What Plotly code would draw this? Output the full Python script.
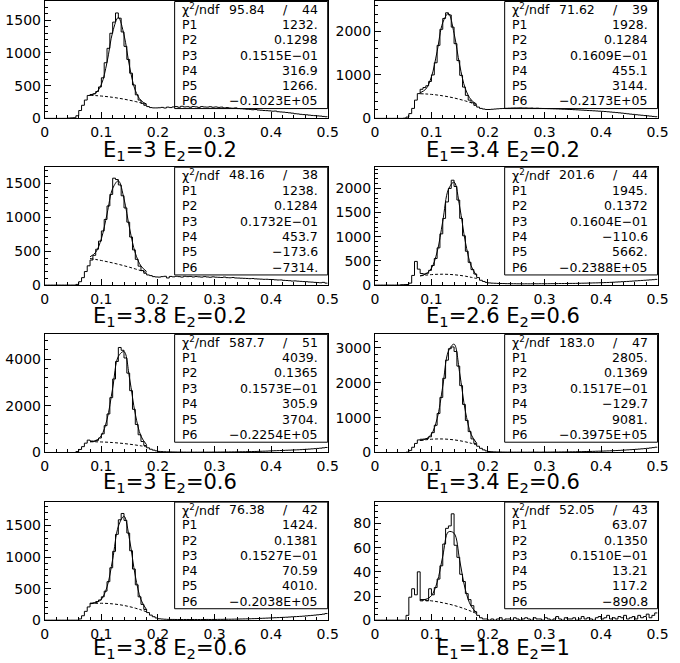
import plotly.graph_objects as go

# ---------------- data ----------------
titles = ["E<sub>1</sub>=3 E<sub>2</sub>=0.2", "E<sub>1</sub>=3.4 E<sub>2</sub>=0.2",
          "E<sub>1</sub>=3.8 E<sub>2</sub>=0.2", "E<sub>1</sub>=2.6 E<sub>2</sub>=0.6",
          "E<sub>1</sub>=3 E<sub>2</sub>=0.6", "E<sub>1</sub>=3.4 E<sub>2</sub>=0.6",
          "E<sub>1</sub>=3.8 E<sub>2</sub>=0.6", "E<sub>1</sub>=1.8 E<sub>2</sub>=1"]

bin_lo = 0.0
bin_hi = 0.5
n_bins = 100

h1 = [0, 0, 0, 0, 0, 0, 0, 0, 5, 8,
      10, 40, 120, 200, 280, 350, 365, 375, 410, 480,
      620, 850, 1070, 1300, 1470, 1610, 1530, 1320, 1100, 900,
      690, 510, 360, 280, 230, 200, 180, 165, 160, 160,
      162, 168, 158, 172, 165, 175, 180, 170, 185, 175,
      178, 170, 182, 176, 168, 180, 174, 172, 178, 170,
      175, 168, 172, 160, 165, 158, 155, 160, 150, 148,
      145, 140, 138, 132, 135, 128, 125, 120, 118, 115,
      110, 112, 102, 98, 95, 90, 85, 80, 72, 68,
      62, 58, 55, 50, 45, 42, 38, 35, 30, 25]
h2 = [0, 0, 0, 0, 0, 0, 0, 0, 0, 0,
      5, 30, 110, 230, 420, 570, 670, 710, 750, 850,
      1000, 1280, 1680, 2050, 2300, 2430, 2380, 2100, 1720, 1330,
      990, 720, 530, 420, 360, 300, 260, 230, 215, 205,
      205, 210, 215, 220, 225, 228, 232, 235, 238, 240,
      240, 242, 238, 240, 236, 238, 232, 235, 230, 228,
      226, 224, 222, 220, 218, 215, 212, 210, 207, 204,
      200, 197, 193, 190, 186, 182, 178, 174, 170, 166,
      162, 158, 152, 146, 140, 134, 128, 121, 114, 106,
      98, 92, 85, 78, 72, 65, 58, 52, 45, 38]
h3 = [0, 0, 0, 0, 0, 0, 0, 0, 0, 0,
      0, 10, 50, 110, 200, 285, 370, 440, 530, 650,
      800, 970, 1170, 1340, 1580, 1560, 1480, 1320, 1140, 930,
      710, 520, 380, 280, 215, 175, 150, 140, 125, 120,
      118, 125, 130, 105, 128, 122, 130, 125, 118, 130,
      125, 128, 120, 126, 122, 118, 125, 120, 116, 122,
      117, 115, 112, 118, 110, 108, 112, 105, 104, 102,
      100, 98, 95, 97, 92, 90, 88, 85, 86, 83,
      82, 78, 75, 76, 70, 68, 65, 60, 62, 58,
      55, 52, 50, 46, 44, 40, 37, 34, 40, 29]
h4 = [0, 0, 0, 0, 0, 0, 0, 0, 0, 8,
      10, 12, 40, 200, 490, 330, 240, 230, 245, 305,
      405, 550, 770, 1060, 1380, 1720, 2000, 2170, 2040, 1760,
      1380, 1020, 700, 470, 320, 230, 155, 100, 75, 55,
      45, 40, 38, 35, 33, 32, 30, 30, 28, 28,
      27, 27, 26, 27, 26, 27, 28, 27, 28, 28,
      28, 29, 30, 30, 31, 32, 32, 33, 34, 35,
      35, 36, 38, 39, 40, 42, 43, 45, 46, 48,
      50, 52, 54, 57, 60, 63, 66, 70, 73, 76,
      80, 84, 88, 92, 96, 100, 104, 108, 112, 118]
h5 = [0, 0, 0, 0, 0, 0, 0, 0, 0, 0,
      0, 40, 130, 250, 400, 530, 490, 480, 520, 620,
      800, 1150, 1650, 2350, 3150, 3900, 4500, 4380, 4050, 3400,
      2650, 1850, 1200, 760, 470, 300, 200, 140, 100, 70,
      45, 38, 32, 28, 24, 22, 20, 18, 17, 16,
      15, 15, 14, 15, 14, 15, 15, 16, 16, 17,
      18, 19, 20, 21, 22, 24, 25, 27, 29, 31,
      33, 35, 38, 41, 44, 48, 52, 56, 60, 66,
      72, 76, 80, 85, 90, 96, 100, 105, 110, 115,
      122, 130, 138, 146, 155, 165, 175, 185, 200, 215]
h6 = [0, 0, 0, 0, 0, 0, 0, 0, 0, 0,
      0, 10, 60, 150, 260, 360, 380, 385, 400, 450,
      570, 780, 1120, 1580, 2130, 2650, 2980, 3030, 2900, 2480,
      1920, 1380, 920, 600, 390, 260, 180, 120, 75, 45,
      28, 22, 18, 15, 14, 12, 11, 11, 10, 10,
      10, 10, 10, 9, 10, 10, 11, 11, 10, 11,
      12, 12, 13, 14, 14, 15, 16, 17, 18, 19,
      20, 22, 23, 25, 27, 29, 31, 33, 36, 38,
      40, 43, 46, 49, 52, 56, 60, 65, 70, 75,
      80, 86, 92, 98, 105, 112, 120, 130, 140, 152]
h7 = [0, 0, 0, 0, 0, 0, 0, 0, 0, 0,
      0, 0, 20, 70, 140, 210, 270, 275, 295, 320,
      370, 460, 610, 830, 1090, 1360, 1590, 1690, 1580, 1380,
      1100, 810, 560, 370, 250, 170, 120, 80, 55, 35,
      22, 18, 15, 13, 12, 12, 11, 11, 10, 11,
      11, 10, 11, 11, 10, 11, 11, 12, 11, 12,
      12, 13, 13, 14, 15, 15, 16, 17, 18, 19,
      20, 21, 22, 24, 25, 27, 29, 31, 33, 35,
      37, 39, 41, 43, 45, 47, 50, 53, 56, 58,
      61, 64, 68, 72, 76, 80, 85, 90, 96, 105]
h8 = [0, 0, 0, 0, 0, 0, 0, 0, 0, 0,
      0, 4, 19, 26, 21, 40, 16, 17, 16, 26,
      21, 27, 34, 45, 63, 76, 78, 88, 62, 52,
      38, 32, 22, 17, 12, 7, 4, 2, 1, 1,
      0, 1, 0, 1, 2, 0, 1, 1, 0, 2,
      1, 0, 1, 2, 1, 0, 2, 1, 1, 0,
      2, 1, 0, 1, 3, 1, 0, 2, 1, 1,
      2, 0, 1, 3, 1, 2, 1, 0, 2, 3,
      1, 2, 4, 1, 2, 1, 3, 2, 4, 1,
      2, 3, 1, 4, 2, 3, 5, 2, 4, 6]
hists = [h1, h2, h3, h4, h5, h6, h7, h8]

# fitted curve (gaussian + polynomial) and its background part
fit_x = [0.08, 0.09, 0.10, 0.11, 0.12, 0.13, 0.14, 0.15, 0.16, 0.17, 0.18]
fit1 = [358, 387, 519, 856, 1321, 1541, 1276, 783, 427, 273, 218]
fit2 = [589, 674, 958, 1541, 2203, 2415, 1956, 1221, 682, 430, 328]
fit3 = [418, 485, 686, 1050, 1428, 1541, 1275, 832, 473, 282, 200]
fit4 = [193, 231, 349, 685, 1319, 1980, 2130, 1616, 892, 402, 190]
fit5 = [464, 508, 725, 1418, 2756, 4116, 4323, 3149, 1645, 702, 330]
fit6 = [344, 390, 527, 971, 1896, 2908, 3110, 2270, 1185, 525, 267]
fit7 = [262, 276, 331, 527, 964, 1485, 1646, 1265, 700, 324, 165]
fit8 = [17.0, 17.3, 20.3, 31.3, 52.9, 73.1, 71.9, 49.3, 25.2, 11.7, 6.2]
fits = [fit1, fit2, fit3, fit4, fit5, fit6, fit7, fit8]

bg1 = [352.7, 347.9, 341.2, 332.4, 321.5, 308.6, 293.6, 276.6, 257.6, 236.5, 213.3]
bg2 = [567.5, 562.1, 552.2, 538.0, 519.5, 496.6, 469.4, 437.8, 401.8, 361.6, 316.9]
bg3 = [393.0, 378.9, 363.2, 346.1, 327.6, 307.5, 286.0, 263.1, 238.7, 212.8, 185.5]
bg4 = [189.6, 205.6, 216.8, 223.3, 224.9, 221.9, 214.1, 201.4, 184.0, 161.8, 134.9]
bg5 = [457.9, 456.7, 450.9, 440.6, 425.8, 406.5, 382.7, 354.3, 321.5, 284.2, 242.3]
bg6 = [342.4, 365.6, 380.9, 388.2, 387.6, 379.0, 362.5, 338.1, 305.7, 265.3, 217.0]
bg7 = [261.0, 266.4, 267.8, 265.1, 258.3, 247.5, 232.6, 213.5, 190.5, 163.3, 132.1]
bg8 = [16.9, 16.5, 16.0, 15.3, 14.4, 13.4, 12.2, 10.8, 9.2, 7.4, 5.5]
bgs = [bg1, bg2, bg3, bg4, bg5, bg6, bg7, bg8]

chi2 = ["95.84", "71.62", "48.16", "201.6", "587.7", "183.0", "76.38", "52.05"]
ndf = ["44", "39", "38", "44", "51", "47", "42", "43"]
par_names = ["P1", "P2", "P3", "P4", "P5", "P6"]
pars = [
    ["1232.", "0.1298", "0.1515E\u221201", "316.9", "1266.", "\u22120.1023E+05"],
    ["1928.", "0.1284", "0.1609E\u221201", "455.1", "3144.", "\u22120.2173E+05"],
    ["1238.", "0.1284", "0.1732E\u221201", "453.7", "\u2212173.6", "\u22127314."],
    ["1945.", "0.1372", "0.1604E\u221201", "\u2212110.6", "5662.", "\u22120.2388E+05"],
    ["4039.", "0.1365", "0.1573E\u221201", "305.9", "3704.", "\u22120.2254E+05"],
    ["2805.", "0.1369", "0.1517E\u221201", "\u2212129.7", "9081.", "\u22120.3975E+05"],
    ["1424.", "0.1381", "0.1527E\u221201", "70.59", "4010.", "\u22120.2038E+05"],
    ["63.07", "0.1350", "0.1510E\u221201", "13.21", "117.2", "\u2212890.8"],
]

y_max = [1785, 2690, 1742, 2439, 5060, 3390, 1870, 97.7]
y_major = [500, 1000, 500, 500, 2000, 1000, 500, 20]
y_minor = [100, 200, 100, 100, 400, 200, 100, 5]
x_ticks = [0, 0.1, 0.2, 0.3, 0.4, 0.5]

# ---------------- layout geometry ----------------
W, H = 680, 663
col_px = [(41.7, 331.0), (379.3, 668.3)]
row_px = [(0.5, 119.0), (168.5, 288.0), (338.0, 457.7), (508.0, 627.7)]
title_y_px = [152.5, 320.5, 489, 656.5]
box_bottom = [0.084, 0.086, 0.087, 0.097]
FONT = "DejaVu Sans"

bin_w = (bin_hi - bin_lo) / n_bins
edges = [bin_lo + i * bin_w for i in range(n_bins + 1)]

fig = go.Figure()
layout = {}
annotations = []
shapes = []

for k in range(8):
    r, c = divmod(k, 2)
    n = k + 1
    xs = "" if n == 1 else str(n)
    xname, yname = "x" + xs, "y" + xs
    x0, x1 = col_px[c]
    y0, y1 = row_px[r]
    layout["xaxis" + xs] = dict(
        domain=[x0 / W, x1 / W], anchor=yname, range=[0, 0.5],
        tickvals=x_ticks, ticklabelstandoff=1,
        showline=True, linecolor="black", linewidth=1, mirror=True,
        ticks="inside", ticklen=6, tickcolor="black", tickwidth=1,
        minor=dict(dtick=0.02, ticks="inside", ticklen=3, tickcolor="black", tickwidth=1),
        showgrid=False, zeroline=False,
        tickfont=dict(family=FONT, size=14, color="black"),
    )
    layout["yaxis" + xs] = dict(
        domain=[1 - y1 / H, 1 - y0 / H], anchor=xname, range=[0, y_max[k]],
        dtick=y_major[k], tick0=0,
        showline=True, linecolor="black", linewidth=1, mirror=True,
        ticks="inside", ticklen=6, tickcolor="black", tickwidth=1,
        minor=dict(dtick=y_minor[k], ticks="inside", ticklen=3, tickcolor="black", tickwidth=1),
        showgrid=False, zeroline=False,
        tickfont=dict(family=FONT, size=14, color="black"),
    )

    h = hists[k]
    fig.add_trace(go.Scatter(
        x=edges, y=h + [h[-1]], mode="lines", line_shape="hv",
        line=dict(color="black", width=1), xaxis=xname, yaxis=yname,
        showlegend=False, hoverinfo="skip"))
    fig.add_trace(go.Scatter(
        x=fit_x, y=bgs[k], mode="lines", line_shape="spline",
        line=dict(color="black", width=1, dash="3px,2px"), xaxis=xname, yaxis=yname,
        showlegend=False, hoverinfo="skip"))
    fig.add_trace(go.Scatter(
        x=fit_x, y=fits[k], mode="lines", line_shape="spline",
        line=dict(color="black", width=1), xaxis=xname, yaxis=yname,
        showlegend=False, hoverinfo="skip"))

    # stats box
    bx0 = 0.459
    by0 = box_bottom[r]
    shapes.append(dict(type="rect", xref=xname + " domain", yref=yname + " domain",
                       x0=bx0, x1=1, y0=by0, y1=1, line=dict(color="black", width=1),
                       fillcolor="rgba(0,0,0,0)"))
    rows = [("\u03c7<sup>2</sup>/ndf", None)] + [(par_names[j], pars[k][j]) for j in range(6)]
    step = (1 - by0) / 7
    for j, (lab, val) in enumerate(rows):
        yy = 1 - (j + 0.5) * step
        af = dict(family=FONT, size=12.5, color="black")
        common = dict(xref=xname + " domain", yref=yname + " domain",
                      yanchor="middle", showarrow=False, font=af)
        annotations.append(dict(text=lab, x=bx0 + 0.02, y=yy, xanchor="left", **common))
        if j == 0:
            annotations.append(dict(text=chi2[k], x=0.715, y=yy, xanchor="center", **common))
            annotations.append(dict(text="/", x=0.852, y=yy, xanchor="center", **common))
            annotations.append(dict(text=ndf[k], x=0.972, y=yy, xanchor="right", **common))
        else:
            annotations.append(dict(text=val, x=0.972, y=yy, xanchor="right", **common))

    annotations.append(dict(text=titles[k], x=0.25 + 0.5 * c, y=1 - title_y_px[r] / H,
                            xref="paper", yref="paper", xanchor="center", yanchor="middle",
                            showarrow=False, font=dict(family=FONT, size=21, color="black")))

fig.update_layout(
    width=W, height=H, margin=dict(l=0, r=0, t=0, b=0),
    paper_bgcolor="white", plot_bgcolor="white",
    annotations=annotations, shapes=shapes, showlegend=False,
    **layout,
)

fig.write_html("out.html", config={"displayModeBar": False},
               post_script="document.body.style.margin='0';document.body.style.overflow='hidden';")
